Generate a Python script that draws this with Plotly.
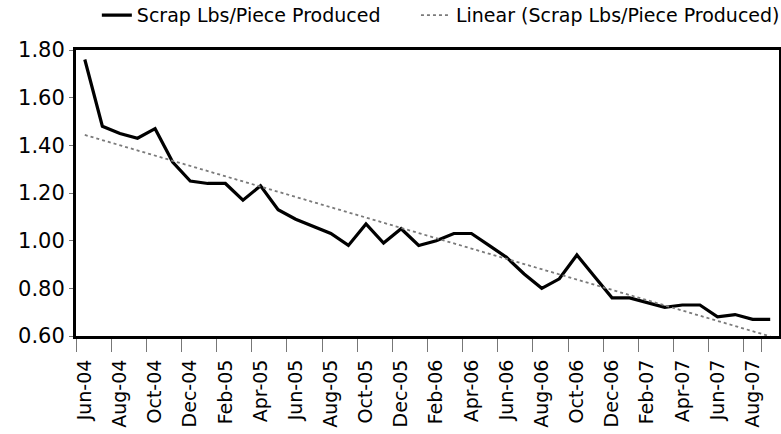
import numpy as np
import plotly.graph_objects as go

months = ["Jun-04", "Jul-04", "Aug-04", "Sep-04", "Oct-04", "Nov-04", "Dec-04", "Jan-05",
          "Feb-05", "Mar-05", "Apr-05", "May-05", "Jun-05", "Jul-05", "Aug-05", "Sep-05",
          "Oct-05", "Nov-05", "Dec-05", "Jan-06", "Feb-06", "Mar-06", "Apr-06", "May-06",
          "Jun-06", "Jul-06", "Aug-06", "Sep-06", "Oct-06", "Nov-06", "Dec-06", "Jan-07",
          "Feb-07", "Mar-07", "Apr-07", "May-07", "Jun-07", "Jul-07", "Aug-07", "Sep-07"]

scrap = [1.76, 1.48, 1.45, 1.43, 1.47, 1.33, 1.25, 1.24,
         1.24, 1.17, 1.23, 1.13, 1.09, 1.06, 1.03, 0.98,
         1.07, 0.99, 1.05, 0.98, 1.00, 1.03, 1.03, 0.98,
         0.93, 0.86, 0.80, 0.84, 0.94, 0.85, 0.76, 0.76,
         0.74, 0.72, 0.73, 0.73, 0.68, 0.69, 0.67, 0.67]

tick_labels = months[::2]
y_ticks = [0.60, 0.80, 1.00, 1.20, 1.40, 1.60, 1.80]

# linear trendline (least squares), as Excel computes it
idx = np.arange(len(scrap))
slope, intercept = np.polyfit(idx, scrap, 1)
trend = slope * idx + intercept

FONT = "DejaVu Sans"

fig = go.Figure()
fig.add_trace(go.Scatter(
    x=months, y=scrap, mode="lines", name="Scrap Lbs/Piece Produced",
    line=dict(color="black", width=3.2), legend="legend"))
fig.add_trace(go.Scatter(
    x=months, y=trend, mode="lines", name="Linear (Scrap Lbs/Piece Produced)",
    line=dict(color="#7a7a7a", width=1.8, dash="dot"), legend="legend2"))

legend_common = dict(orientation="h", xref="container", yref="container",
                     y=0.965, xanchor="left", yanchor="middle",
                     font=dict(size=19, family=FONT), itemwidth=30,
                     bgcolor="rgba(0,0,0,0)")

fig.update_layout(
    width=781, height=434,
    margin=dict(l=76, r=2, t=50, b=98, autoexpand=False),
    paper_bgcolor="white", plot_bgcolor="white",
    font=dict(family=FONT, color="black"),
    showlegend=True,
    legend=dict(x=0.124, **legend_common),
    legend2=dict(x=0.5326, **legend_common),
)

fig.update_xaxes(
    type="category", range=[-0.5, len(months) - 0.5],
    tickmode="array", tickvals=tick_labels, ticktext=tick_labels,
    tickson="boundaries", ticks="outside", ticklen=13, tickwidth=1,
    tickcolor="#777777", tickangle=-90, tickfont=dict(size=19, family=FONT),
    ticklabelstandoff=13,
    showline=True, linecolor="black", linewidth=3, mirror=True,
    showgrid=False, zeroline=False)

fig.update_yaxes(
    range=[0.6, 1.8], tickmode="array", tickvals=y_ticks,
    ticktext=[f"{v:.2f}" for v in y_ticks],
    ticks="outside", ticklen=4, tickcolor="#777777",
    tickfont=dict(size=21, family=FONT), ticklabelstandoff=0,
    showline=True, linecolor="black", linewidth=3, mirror=True,
    showgrid=False, zeroline=False)

fig.write_html("out.html", config={"displayModeBar": False},
               post_script="document.body.style.margin='0';document.body.style.overflow='hidden';")
